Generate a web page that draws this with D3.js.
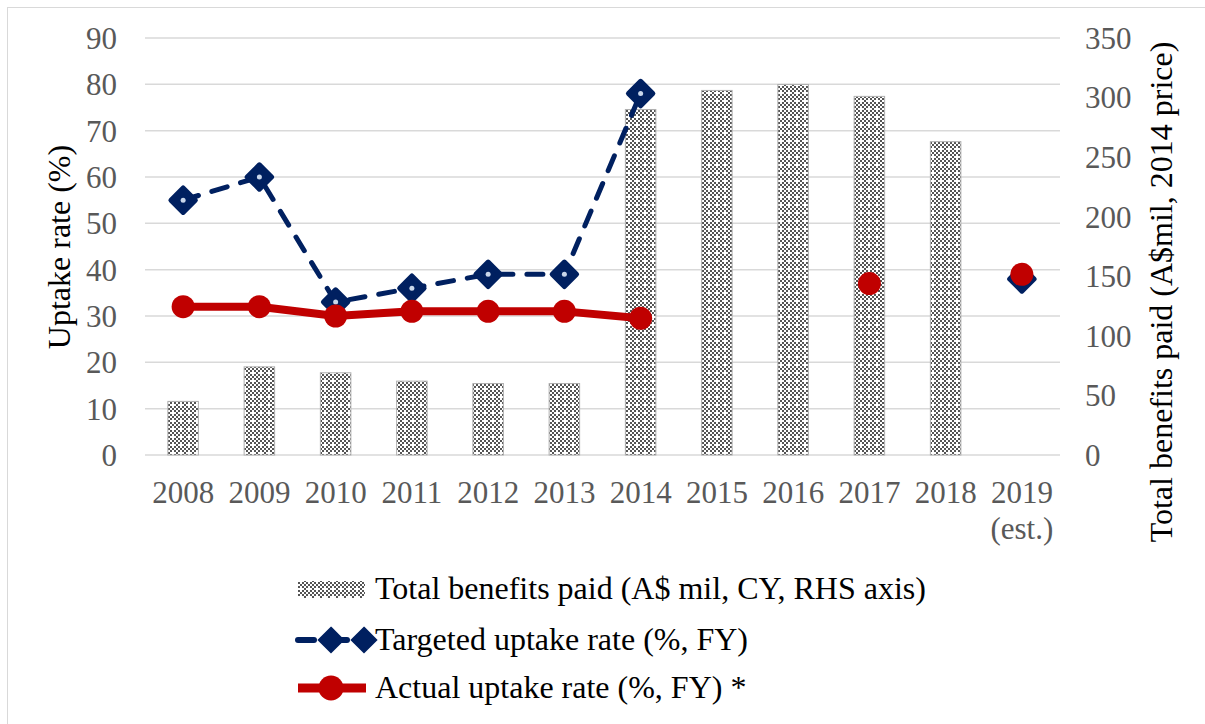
<!DOCTYPE html>
<html>
<head>
<meta charset="utf-8">
<script src="https://cdn.jsdelivr.net/npm/d3@7"></script>
<style>
  body { margin: 0; background: #fff; }
</style>
</head>
<body>
<svg></svg>
<script>
const W = 1205, H = 724;
const FONT = "'Liberation Serif', 'Times New Roman', Times, 'DejaVu Serif', serif";

// data
const years = ["2008","2009","2010","2011","2012","2013","2014","2015","2016","2017","2018","2019"];
const benefits = [45, 74, 69, 62, 60, 60, 290, 306, 311, 301, 263, null];
const targeted = [55, 60, 33, 36, 39, 39, 78, null, null, null, null, 38];
const actual = [32, 32, 30, 31, 31, 31, 29.5, null, null, 37, null, 39];
const leftTicks = [0,10,20,30,40,50,60,70,80,90];
const rightTicks = [0,50,100,150,200,250,300,350];

const svg = d3.select("svg").attr("width", W).attr("height", H)
  .style("display", "block")
  .attr("font-family", FONT);

// frame
svg.append("rect")
  .attr("x", 7.5).attr("y", 7.5)
  .attr("width", W).attr("height", H)
  .attr("fill", "none").attr("stroke", "#d9d9d9");

// dotted bar fill
const defs = svg.append("defs");
const pat = defs.append("pattern")
  .attr("id", "dots").attr("patternUnits", "userSpaceOnUse")
  .attr("width", 8).attr("height", 8);
pat.append("rect").attr("width", 8).attr("height", 8).attr("fill", "#fff");
for (let i = 0; i < 4; i++) {
  for (let j = 0; j < 4; j++) {
    if ((i + j) % 2 === 0 && !(i === 2 && j === 2)) {
      pat.append("rect").attr("x", i * 2).attr("y", j * 2)
        .attr("width", 2).attr("height", 2).attr("fill", "#555");
    }
  }
}

let x = d3.scaleBand().domain(years).range([145, 1060]);
let yL = d3.scaleLinear().domain([0, 90]).range([455, 38]);
let yR = d3.scaleLinear().domain([0, 350]).range([455, 38]);
const cx = d => x(d) + x.bandwidth() / 2;

// gridlines
svg.append("g").selectAll("line").data(leftTicks).enter().append("line")
  .attr("x1", 145).attr("x2", 1060)
  .attr("y1", d => yL(d)).attr("y2", d => yL(d))
  .attr("stroke", "#d9d9d9").attr("stroke-width", 1.5);

// bars
const bw = x.bandwidth() * 0.4;
svg.append("g").selectAll("rect")
  .data(years.map((y, i) => ({ y, v: benefits[i] })).filter(d => d.v != null))
  .enter().append("rect")
  .attr("x", d => cx(d.y) - bw / 2)
  .attr("y", d => yR(d.v))
  .attr("width", bw)
  .attr("height", d => yR(0) - yR(d.v))
  .attr("fill", "url(#dots)")
  .attr("stroke", "#b0b0b0").attr("stroke-width", 1);

// axis labels
const tickStyle = { size: 31, color: "#595959" };
svg.append("g").selectAll("text").data(leftTicks).enter().append("text")
  .attr("x", 117).attr("y", d => yL(d)).attr("dy", "0.35em")
  .attr("text-anchor", "end").attr("font-size", tickStyle.size).attr("fill", tickStyle.color)
  .text(d => d);

svg.append("g").selectAll("text").data(rightTicks).enter().append("text")
  .attr("x", 1085).attr("y", d => yR(d)).attr("dy", "0.35em")
  .attr("text-anchor", "start").attr("font-size", tickStyle.size).attr("fill", tickStyle.color)
  .text(d => d);

svg.append("g").selectAll("text").data(years).enter().append("text")
  .attr("x", d => cx(d)).attr("y", 503)
  .attr("text-anchor", "middle").attr("font-size", tickStyle.size).attr("fill", tickStyle.color)
  .text(d => d);
svg.append("text")
  .attr("x", cx("2019")).attr("y", 539)
  .attr("text-anchor", "middle").attr("font-size", tickStyle.size).attr("fill", tickStyle.color)
  .text("(est.)");

svg.append("text")
  .attr("transform", "translate(70,247) rotate(-90)")
  .attr("text-anchor", "middle").attr("font-size", 32).attr("fill", "#000")
  .text("Uptake rate (%)");
svg.append("text")
  .attr("transform", "translate(1172,292) rotate(-90)")
  .attr("text-anchor", "middle").attr("font-size", 32).attr("fill", "#000")
  .text("Total benefits paid (A$mil, 2014 price)");

// series
const blue = "#002060", red = "#c00000";
const diamond = d3.symbol().type(d3.symbolDiamond2).size(380);

function drawTargeted(g, pts) {
  g.append("path").datum(pts)
    .attr("d", d3.line().defined(d => d.v != null).x(d => cx(d.y)).y(d => yL(d.v)))
    .attr("fill", "none").attr("stroke", blue).attr("stroke-width", 5)
    .attr("stroke-dasharray", "16,14").attr("stroke-linecap", "round");
  const m = g.selectAll("g.mk").data(pts.filter(d => d.v != null)).enter().append("g")
    .attr("transform", d => `translate(${cx(d.y)},${yL(d.v)})`);
  m.append("path").attr("d", diamond).attr("fill", blue)
    .attr("stroke", blue).attr("stroke-width", 5).attr("stroke-linejoin", "round");
  m.append("circle").attr("r", 2.5).attr("fill", "#c9d6ea");
}

function drawActual(g, pts) {
  g.append("path").datum(pts)
    .attr("d", d3.line().defined(d => d.v != null).x(d => cx(d.y)).y(d => yL(d.v)))
    .attr("fill", "none").attr("stroke", red).attr("stroke-width", 8)
    .attr("stroke-linejoin", "round");
  g.selectAll("circle").data(pts.filter(d => d.v != null)).enter().append("circle")
    .attr("cx", d => cx(d.y)).attr("cy", d => yL(d.v))
    .attr("r", 11.5).attr("fill", red);
}

drawTargeted(svg.append("g"), years.map((y, i) => ({ y, v: targeted[i] })));
drawActual(svg.append("g"), years.map((y, i) => ({ y, v: actual[i] })));

// legend
const lg = svg.append("g");
const legendRows = [
  "Total benefits paid (A$ mil, CY, RHS axis)",
  "Targeted uptake rate (%, FY)",
  "Actual uptake rate (%, FY) *"
];
const rowY = [589, 640, 688];
lg.selectAll("text").data(legendRows).enter().append("text")
  .attr("x", 375).attr("y", (d, i) => rowY[i]).attr("dy", "0.32em")
  .attr("font-size", 32).attr("fill", "#000")
  .text(d => d);

lg.append("rect").attr("x", 298).attr("y", rowY[0] - 8).attr("width", 67).attr("height", 17)
  .attr("fill", "url(#dots)");

lg.append("line").attr("x1", 298).attr("x2", 314).attr("y1", rowY[1]).attr("y2", rowY[1])
  .attr("stroke", blue).attr("stroke-width", 6).attr("stroke-linecap", "round");
lg.append("line").attr("x1", 330).attr("x2", 347).attr("y1", rowY[1]).attr("y2", rowY[1])
  .attr("stroke", blue).attr("stroke-width", 6).attr("stroke-linecap", "round");
[331, 364].forEach(px => {
  lg.append("path").attr("d", diamond)
    .attr("transform", `translate(${px},${rowY[1]})`)
    .attr("fill", blue).attr("stroke", blue).attr("stroke-width", 2);
});

lg.append("line").attr("x1", 298).attr("x2", 366).attr("y1", rowY[2]).attr("y2", rowY[2])
  .attr("stroke", red).attr("stroke-width", 9);
lg.append("circle").attr("cx", 331).attr("cy", rowY[2]).attr("r", 12.5).attr("fill", red);
</script>
</body>
</html>
